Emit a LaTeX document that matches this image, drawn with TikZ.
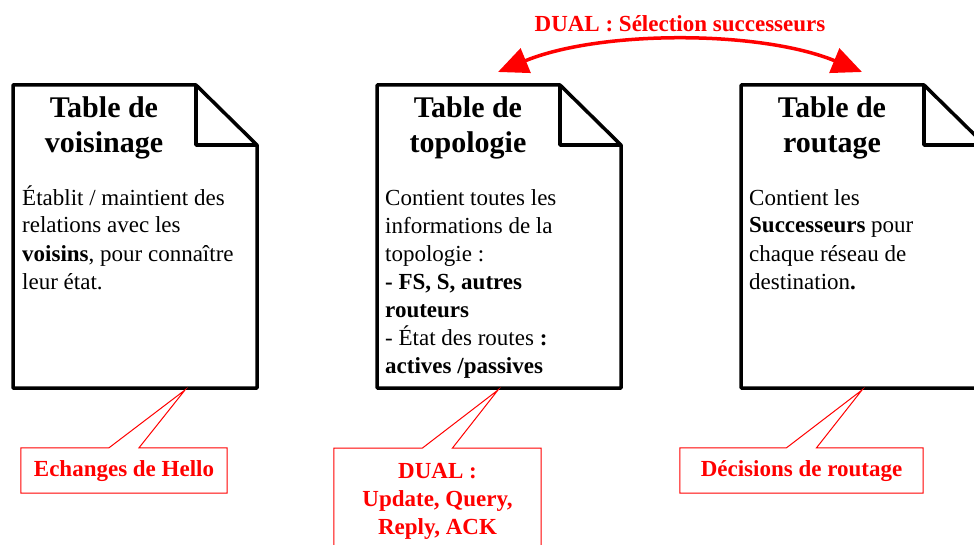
\documentclass[tikz,border=0pt]{standalone}
\usepackage{fontspec}
\setmainfont{Liberation Serif}
\usetikzlibrary{arrows.meta,calc}
\begin{document}
\begin{tikzpicture}[x=1pt,y=-1pt,
	doc/.style={line width=3.5pt,line join=round},
	titre/.style={font=\fontsize{30}{35}\selectfont\bfseries,align=center,anchor=base,inner sep=0pt},
	texte/.style={font=\fontsize{23}{28}\selectfont,align=left,anchor=base west,inner sep=0pt},
	bulle/.style={font=\fontsize{23}{28}\selectfont\bfseries,text=red,align=center,inner sep=0pt,minimum width=#1},
	contour/.style={draw=red,line width=1pt},
	fleche/.style={red,line width=3.5pt,{Triangle[length=30pt,width=26pt]}-{Triangle[length=30pt,width=26pt]}}]
	\useasboundingbox (0,0) rectangle (974,545);
	% les trois tables
	\foreach \x/\n in {13/voisin,377/topo,741/route}{
		\draw[doc] (\x,85) -- (\x+183,85) -- (\x+244,145) -- (\x+244,388) -- (\x,388) -- cycle;
		\draw[doc] (\x+183,85) -- (\x+183,145) -- (\x+244,145);
	}
	% base = derniere ligne
	\node[titre] (voisin titre) at (104,153) {Table de\\voisinage};
	\node[titre] (topo titre) at (468,153) {Table de\\topologie};
	\node[titre] (route titre) at (832,153) {Table de\\routage};
	\node[texte] (voisin texte) at (22,289) {Établit / maintient des\\relations avec les\\\textbf{voisins}, pour connaître\\leur état.};
	\node[texte] (topo texte) at (385,373) {Contient toutes les\\informations de la\\topologie :\\\textbf{- FS, S, autres}\\\textbf{routeurs}\\- État des routes \textbf{:}\\\textbf{actives /passives}};
	\node[texte] (route texte) at (749,289) {Contient les\\\textbf{Successeurs} pour\\chaque réseau de\\destination\textbf{.}};
	% DUAL en haut
	\node[bulle=0pt,anchor=base] (selection) at (680,32) {DUAL : Sélection successeurs};
	\coordinate (topo haut) at (498,72);
	\coordinate (route haut) at (862,72);
	\draw[fleche] (topo haut) .. controls (600,30) and (760,30) .. (route haut);
	% bulles
	\coordinate (voisin bas) at (185,390);
	\coordinate (topo bas) at (498,390);
	\coordinate (route bas) at (862,390);
	\node[bulle=206pt,minimum height=45pt,text depth=4pt] (hello) at (124,470.5) {Echanges de Hello};
	\node[bulle=207pt,anchor=north,inner ysep=15pt] (dual) at (437.5,448) {DUAL :\\Update, Query,\\Reply, ACK};
	\node[bulle=243pt,minimum height=45pt,text depth=4pt] (decision) at (801.5,470.5) {Décisions de routage};
	\foreach \b/\d in {hello/voisin bas,dual/topo bas,decision/route bas}
		\draw[contour] (\b.north west) -- ($(\b.north)+(-15,0)$) -- (\d) -- ($(\b.north)+(15,0)$) -- (\b.north east) -- (\b.south east) -- (\b.south west) -- cycle;
\end{tikzpicture}
\end{document}
